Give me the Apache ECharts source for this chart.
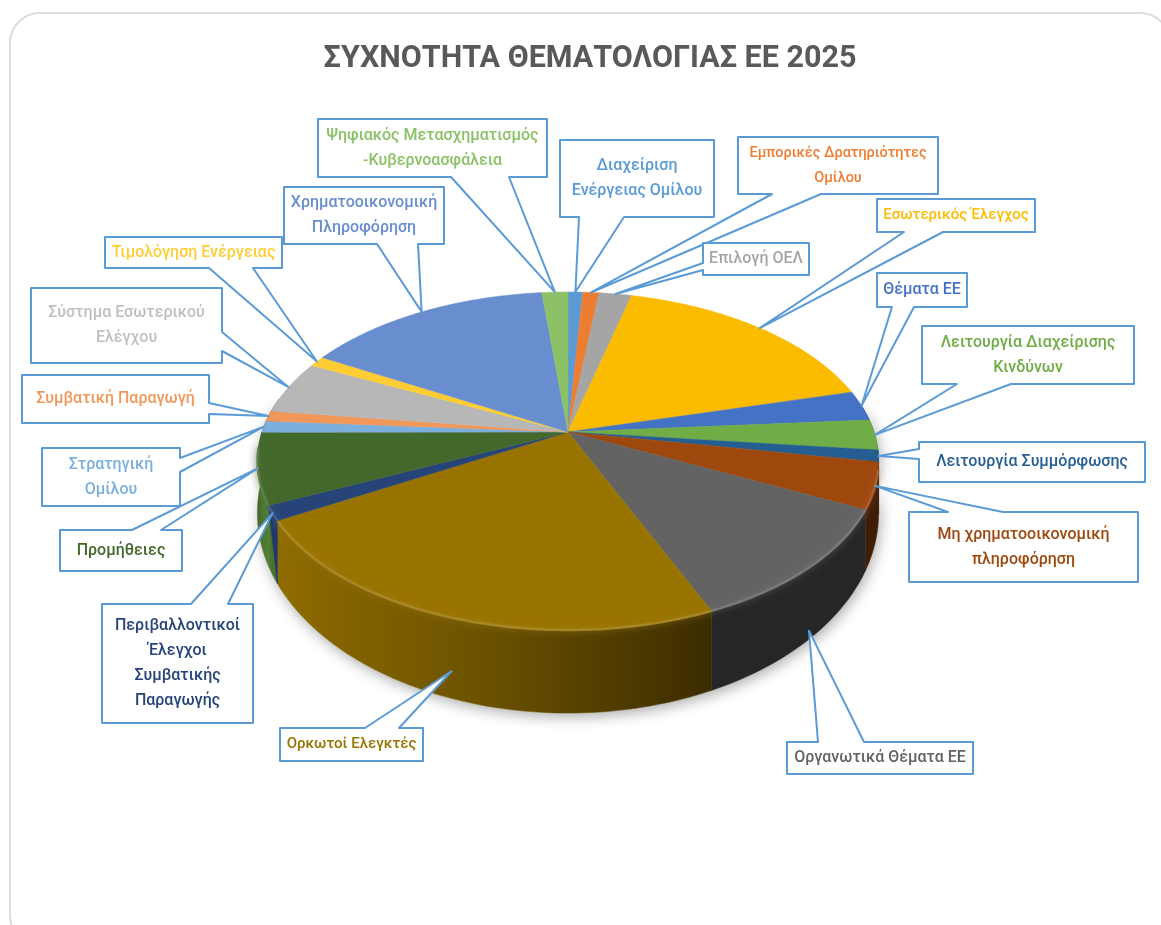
<!DOCTYPE html>
<html>
<head>
<meta charset="utf-8">
<title>ΣΥΧΝΟΤΗΤΑ ΘΕΜΑΤΟΛΟΓΙΑΣ ΕΕ 2025</title>
<script src="https://cdn.jsdelivr.net/npm/echarts@6/dist/echarts.min.js"></script>
<style>
html, body { margin: 0; padding: 0; background: #fff; }
#main { width: 1161px; height: 925px; }
</style>
</head>
<body>
<div id="main"></div>
<script>
// data (share of the pie, clockwise from 12 o'clock)
var categories = [
  'Διαχείριση Ενέργειας Ομίλου', 'Εμπορικές Δρατηριότητες Ομίλου', 'Επιλογή ΟΕΛ',
  'Εσωτερικός Έλεγχος', 'Θέματα ΕΕ', 'Λειτουργία Διαχείρισης Κινδύνων',
  'Λειτουργία Συμμόρφωσης', 'Μη χρηματοοικονομική πληροφόρηση', 'Οργανωτικά Θέματα ΕΕ',
  'Ορκωτοί Ελεγκτές', 'Περιβαλλοντικοί Έλεγχοι Συμβατικής Παραγωγής', 'Προμήθειες',
  'Στρατηγική Ομίλου', 'Συμβατική Παραγωγή', 'Σύστημα Εσωτερικού Ελέγχου',
  'Τιμολόγηση Ενέργειας', 'Χρηματοοικονομική Πληροφόρηση', 'Ψηφιακός Μετασχηματισμός -Κυβερνοασφάλεια'
];
var values = [0.9, 1.0, 2.0, 17.0, 2.9, 2.9, 1.1, 4.4, 11.3, 23.2, 1.4, 6.8, 1.1, 1.0, 5.1, 1.0, 15.2, 1.6];

// how the labels wrap in their boxes
var labelLines = [
  ['Διαχείριση', 'Ενέργειας Ομίλου'], ['Εμπορικές Δρατηριότητες', 'Ομίλου'], ['Επιλογή ΟΕΛ'],
  ['Εσωτερικός Έλεγχος'], ['Θέματα ΕΕ'], ['Λειτουργία Διαχείρισης', 'Κινδύνων'],
  ['Λειτουργία Συμμόρφωσης'], ['Μη χρηματοοικονομική', 'πληροφόρηση'], ['Οργανωτικά Θέματα ΕΕ'],
  ['Ορκωτοί Ελεγκτές'], ['Περιβαλλοντικοί', 'Έλεγχοι', 'Συμβατικής', 'Παραγωγής'], ['Προμήθειες'],
  ['Στρατηγική', 'Ομίλου'], ['Συμβατική Παραγωγή'], ['Σύστημα Εσωτερικού', 'Ελέγχου'],
  ['Τιμολόγηση Ενέργειας'], ['Χρηματοοικονομική', 'Πληροφόρηση'], ['Ψηφιακός Μετασχηματισμός', '-Κυβερνοασφάλεια']
];

// styles
var faceColors = ['#5b9bd5', '#ed7d31', '#a5a5a5', '#fbbc00', '#4472c4', '#70ad47', '#255e91', '#9e480e', '#636363',
  '#997300', '#264478', '#43682b', '#7cafdd', '#f1975a', '#b7b7b7', '#ffcd33', '#698ed0', '#8cc168'];
var textColors = faceColors.slice();
textColors[14] = '#bfbfbf';
var wallColors = ['#2c4c69', '#773e18', '#525252', '#7f6000', '#223962', '#385723', '#122f48', '#3f1d05', '#262626',
  '#8a6800', '#1f3a68', '#4a7230', '#3e576e', '#78492c', '#5b5b5b', '#7f661a', '#344768', '#466034'];
var labelSizes = [16, 14.5, 16, 15, 16, 16, 16, 16, 16, 15, 16, 16, 16, 16, 16, 16, 16, 16];

// box: left, top, right, bottom; neck: two points on the box edge; drop: how far down the wall the tip lands
var callouts = [
  { box: [560, 140, 714, 217], neck: [[579, 217], [624, 217]], drop: 0 },
  { box: [738, 137, 938, 194], neck: [[772, 194], [821, 194]], drop: 0 },
  { box: [703, 243, 809, 275], neck: [[703, 263], [703, 270]], drop: 0 },
  { box: [877, 199, 1035, 232], neck: [[904, 232], [943, 232]], drop: 0 },
  { box: [877, 273, 967, 307], neck: [[892, 307], [914, 307]], drop: 0 },
  { box: [922, 326, 1134, 384], neck: [[957, 384], [1011, 384]], drop: 0 },
  { box: [919, 442, 1145, 482], neck: [[919, 449], [919, 459]], drop: 0 },
  { box: [909, 512, 1138, 582], neck: [[948, 512], [1003, 512]], drop: 0 },
  { box: [787, 742, 973, 774], neck: [[818, 742], [864, 742]], drop: 0.88 },
  { box: [280, 728, 423, 761], neck: [[365, 728], [399, 728]], drop: 0.66 },
  { box: [102, 604, 253, 723], neck: [[191, 604], [228, 604]], drop: 0 },
  { box: [60, 530, 182, 571], neck: [[132, 530], [161, 530]], drop: 0 },
  { box: [42, 448, 180, 506], neck: [[180, 458], [180, 472]], drop: 0 },
  { box: [22, 375, 209, 423], neck: [[209, 403], [209, 414]], drop: 0 },
  { box: [31, 288, 222, 363], neck: [[222, 332], [222, 351]], drop: 0 },
  { box: [105, 237, 282, 268], neck: [[209, 268], [253, 268]], drop: 0 },
  { box: [284, 187, 444, 244], neck: [[377, 244], [418, 244]], drop: 0 },
  { box: [318, 119, 547, 177], neck: [[451, 177], [509, 177]], drop: 0 }
];

// the tilted pie: two planes seen in perspective, the rim on top and the base lower down
var cx = 568, tilt = -0.1716;
var topPlane = { r: 306, a: 89.9, b: 432 };
var basePlane = { r: 306, a: 112, b: 478.7 };

var total = values.reduce(function (s, v) { return s + v; }, 0);
var bounds = [0];
values.forEach(function (v, i) { bounds.push(bounds[i] + v); });

function angleOf(share) {
  return echarts.number.linearMap(share, [0, total], [0, Math.PI * 2], true);
}
function project(theta, plane) {
  var u = Math.sin(theta), v = -Math.cos(theta), d = 1 + tilt * v;
  return [cx + plane.r * u / d, (plane.a * v + plane.b) / d];
}
function arc(from, to, plane) {
  var pts = [], n = Math.max(2, Math.ceil((to - from) / 0.02));
  for (var i = 0; i <= n; i++) {
    pts.push(project(from + (to - from) * i / n, plane));
  }
  return pts;
}
var wallFrom = 80 * Math.PI / 180, wallTo = 282 * Math.PI / 180;
var greenIndex = categories.indexOf('Προμήθειες'), envIndex = categories.indexOf('Περιβαλλοντικοί Έλεγχοι Συμβατικής Παραγωγής');

function wallFill(i) {
  if (categories[i] === 'Ορκωτοί Ελεγκτές') {
    return { type: 'linear', global: true, x: 275, y: 0, x2: 710, y2: 0,
      colorStops: [{ offset: 0, color: '#8f6c00' }, { offset: 0.45, color: '#6e5300' }, { offset: 1, color: '#3c2d00' }] };
  }
  if (i === greenIndex) {
    return { type: 'linear', global: true, x: 256, y: 0, x2: 280, y2: 0,
      colorStops: [{ offset: 0, color: '#3f6128' }, { offset: 0.4, color: '#507c34' }, { offset: 1, color: '#456a2c' }] };
  }
  return wallColors[i];
}

function renderWall(params, api) {
  var i = api.value(0);
  var s = Math.max(angleOf(bounds[i]), wallFrom), e = Math.min(angleOf(bounds[i + 1]), wallTo);
  var children = [];
  if (i === 0) {
    children.push({
      type: 'polygon',
      shape: { points: arc(wallFrom, wallTo, topPlane).concat(arc(wallFrom, wallTo, basePlane).reverse()) },
      style: { fill: '#fff', shadowBlur: 14, shadowColor: 'rgba(0,0,0,0.32)', shadowOffsetY: 4, shadowOffsetX: 2 }
    });
  }
  if (i === envIndex) {
    // this narrow wall tapers to its lower corner and lets the next wall show round it
    children.push({
      type: 'polygon',
      shape: { points: arc(s, e, topPlane).concat(arc(s, e, basePlane).reverse()) },
      style: { fill: wallFill(greenIndex), stroke: wallFill(greenIndex), lineWidth: 0.5 }
    });
    children.push({
      type: 'polygon',
      shape: { points: arc(s, e, topPlane).concat([project(s, basePlane)]) },
      style: { fill: wallFill(i), stroke: wallFill(i), lineWidth: 0.5 }
    });
  } else if (s < e) {
    children.push({
      type: 'polygon',
      shape: { points: arc(s, e, topPlane).concat(arc(s, e, basePlane).reverse()) },
      style: { fill: wallFill(i), stroke: wallFill(i), lineWidth: 0.5 }
    });
  }
  return { type: 'group', children: children };
}

function renderFace(params, api) {
  var i = api.value(0);
  var s = angleOf(bounds[i]), e = angleOf(bounds[i + 1]);
  var apex = [cx, topPlane.b];
  var children = [{
    type: 'polygon',
    shape: { points: [apex].concat(arc(s, e, topPlane)) },
    style: { fill: faceColors[i], stroke: faceColors[i], lineWidth: 0.5 }
  }];
  var rs = Math.max(s, wallFrom + 0.4), re = Math.min(e, wallTo - 0.3);
  if (rs < re) {
    // soft bevel along the front of the rim
    children.push({
      type: 'polyline',
      shape: { points: arc(rs, re, topPlane) },
      style: { fill: null, stroke: echarts.color.lift(faceColors[i], 0.18), lineWidth: 2.5, opacity: 0.8,
        shadowBlur: 6, shadowColor: echarts.color.lift(faceColors[i], 0.1) }
    });
  }
  return { type: 'group', children: children };
}

function renderCallout(params, api) {
  var i = api.value(0), c = callouts[i], b = c.box;
  var mid = (angleOf(bounds[i]) + angleOf(bounds[i + 1])) / 2;
  var t = project(mid, topPlane), u = project(mid, basePlane);
  var tip = [t[0] + (u[0] - t[0]) * c.drop, t[1] + (u[1] - t[1]) * c.drop];
  var corners = [[b[0], b[1]], [b[2], b[1]], [b[2], b[3]], [b[0], b[3]]];
  var pts, n = c.neck;
  // the pointer leaves from whichever edge the neck sits on
  if (n[0][1] === b[1]) pts = [corners[0], n[0], tip, n[1], corners[1], corners[2], corners[3]];
  else if (n[0][1] === b[3]) pts = [corners[0], corners[1], corners[2], n[1], tip, n[0], corners[3]];
  else if (n[0][0] === b[0]) pts = [corners[0], corners[1], corners[2], corners[3], n[1], tip, n[0]];
  else pts = [corners[0], corners[1], n[0], tip, n[1], corners[2], corners[3]];
  var lines = labelLines[i], lh = 25;
  var y0 = (b[1] + b[3]) / 2 - lh * (lines.length - 1) / 2;
  var children = [{
    type: 'polygon',
    shape: { points: pts },
    style: { fill: '#fff', stroke: '#5b9bd5', lineWidth: 2, lineJoin: 'round' }
  }];
  lines.forEach(function (line, k) {
    children.push({
      type: 'text',
      style: { text: line, x: (b[0] + b[2]) / 2, y: y0 + k * lh, align: 'center', verticalAlign: 'middle',
        fill: textColors[i], font: '500 ' + labelSizes[i] + 'px Roboto' }
    });
  });
  return { type: 'group', children: children };
}

var pieData = categories.map(function (name, i) { return { name: name, value: [i, values[i]] }; });

var myChart = echarts.init(document.getElementById('main'));
var option = {
  animation: false,
  backgroundColor: '#fff',
  title: {
    text: 'ΣΥΧΝΟΤΗΤΑ ΘΕΜΑΤΟΛΟΓΙΑΣ ΕΕ 2025',
    left: 590,
    textAlign: 'center',
    top: 44,
    padding: 0,
    textStyle: { color: '#595959', fontFamily: 'Roboto', fontWeight: 'bold', fontSize: 30.5 }
  },
  graphic: [{
    type: 'rect',
    z: -1,
    shape: { x: 10, y: 13, width: 1160, height: 932, r: 30 },
    style: { fill: 'none', stroke: '#dcdcdc', lineWidth: 2 }
  }],
  series: [
    { type: 'custom', coordinateSystem: 'none', name: 'walls', z: 2, silent: true, renderItem: renderWall, data: pieData },
    { type: 'custom', coordinateSystem: 'none', name: 'faces', z: 3, silent: true, renderItem: renderFace, data: pieData },
    { type: 'custom', coordinateSystem: 'none', name: 'labels', z: 4, silent: true, renderItem: renderCallout, data: pieData }
  ]
};
option && myChart.setOption(option);
</script>
</body>
</html>
